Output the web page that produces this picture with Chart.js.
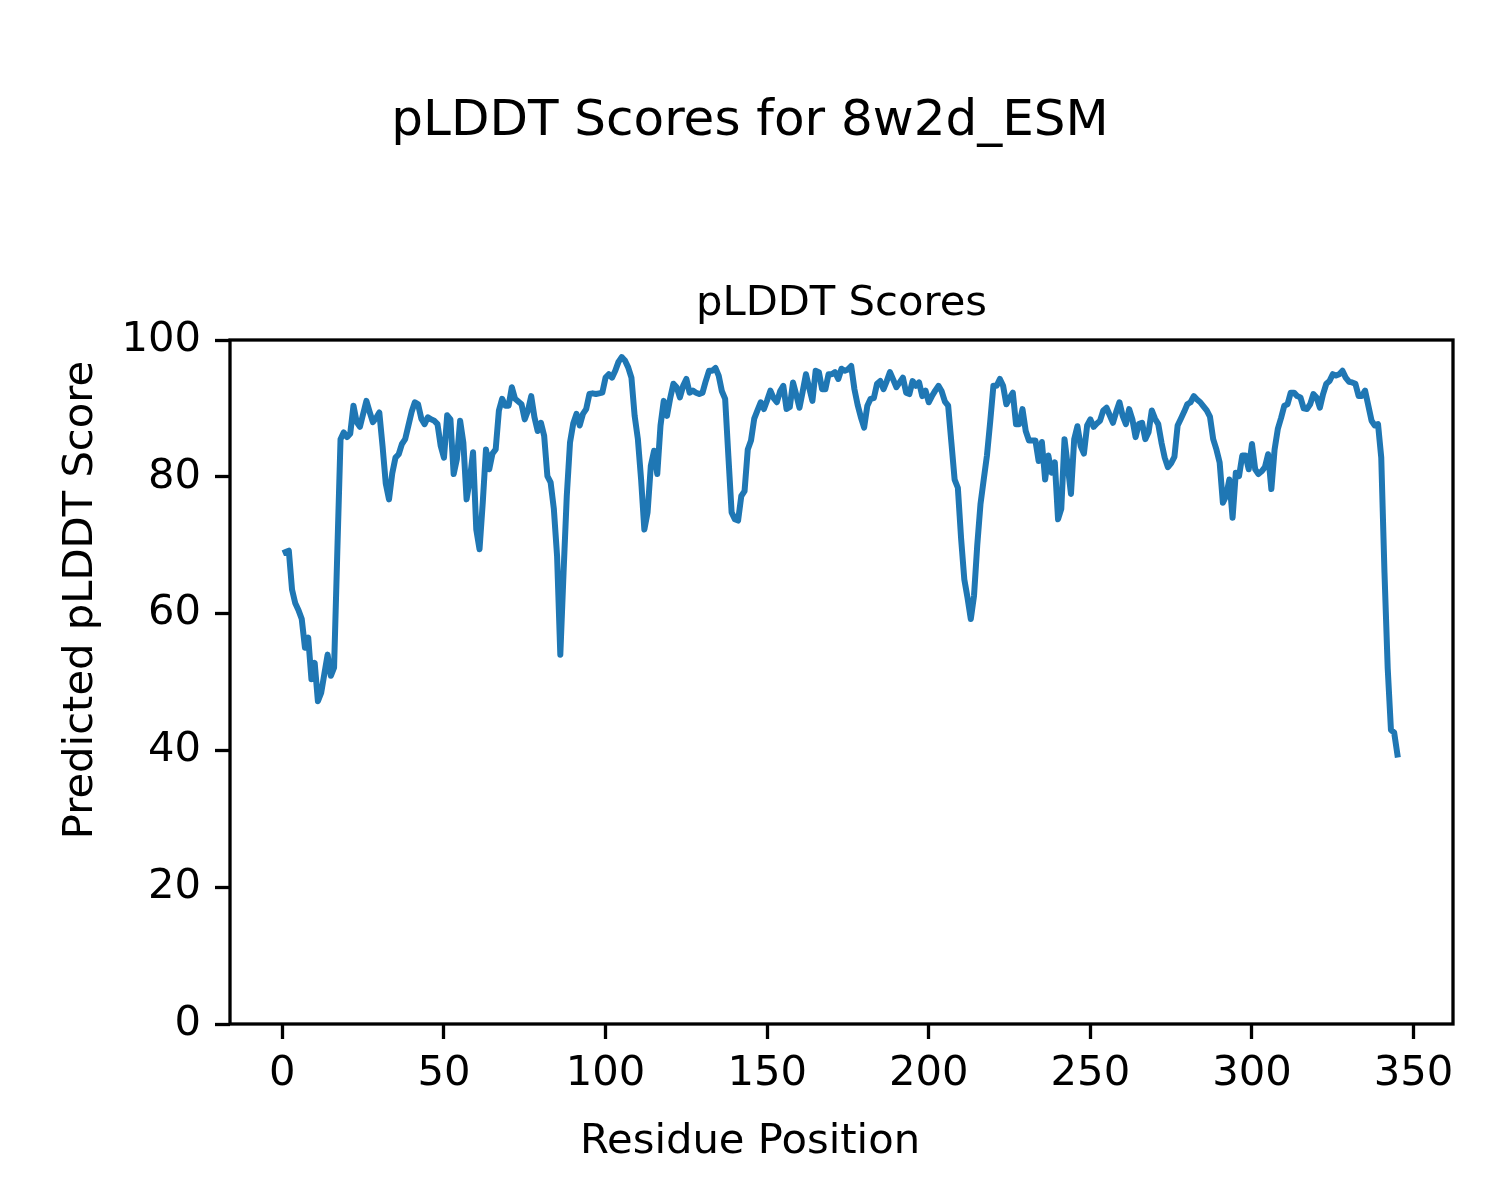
<!DOCTYPE html>
<html>
<head>
<meta charset="utf-8">
<script src="https://cdn.jsdelivr.net/npm/chart.js@4.4.1/dist/chart.umd.min.js"></script>
<style>
    html, body { margin: 0; background: #fff; }
    #wrap { width: 1500px; height: 1200px; }
</style>
</head>
<body>
<div id="wrap"><canvas id="grafico" width="1500" height="1200"></canvas></div>
<script>
// tick labels
var residueTicks = [0, 50, 100, 150, 200, 250, 300, 350];
var scoreTicks = [0, 20, 40, 60, 80, 100];

// pLDDT per residue (1..345)
var plddt = [
    69.0, 69.2, 63.5, 61.5, 60.5, 59.2, 55.0, 56.5, 50.4, 52.8,
    47.2, 48.4, 51.2, 54.0, 50.9, 52.1, 69.0, 85.5, 86.5, 85.8,
    86.3, 90.4, 88.0, 87.3, 89.2, 91.1, 89.5, 88.0, 88.6, 89.4,
    84.5, 79.0, 76.7, 80.5, 82.8, 83.3, 84.8, 85.5, 87.5, 89.5,
    90.9, 90.6, 88.5, 87.7, 88.7, 88.4, 88.2, 87.7, 84.5, 82.8,
    89.0, 88.4, 80.4, 82.6, 88.2, 85.0, 76.7, 79.6, 83.6, 72.3,
    69.4, 76.2, 84.0, 81.1, 83.4, 84.0, 89.7, 91.4, 90.4, 90.4,
    93.1, 91.4, 91.0, 90.6, 88.4, 89.7, 91.8, 88.7, 86.7, 87.9,
    86.0, 80.1, 79.2, 75.3, 68.4, 54.0, 66.0, 77.2, 85.0, 87.8,
    89.2, 87.5, 89.2, 89.9, 92.1, 92.2, 92.1, 92.2, 92.3, 94.5,
    95.0, 94.5, 95.5, 96.8, 97.5, 97.0, 96.0, 94.5, 88.9, 85.5,
    79.6, 72.3, 74.8, 81.6, 83.8, 80.4, 87.5, 91.1, 88.9, 91.5,
    93.6, 93.1, 91.6, 93.3, 94.3, 92.3, 92.6, 92.3, 92.1, 92.3,
    94.0, 95.5, 95.5, 95.9, 94.8, 92.5, 91.4, 83.0, 74.8, 73.8,
    73.6, 77.2, 77.9, 84.0, 85.3, 88.5, 89.7, 90.9, 89.9, 91.2,
    92.6, 91.5, 90.9, 92.5, 93.3, 89.9, 90.2, 93.8, 92.0, 90.1,
    92.5, 95.0, 93.0, 91.1, 95.5, 95.3, 92.8, 92.8, 95.0, 95.0,
    95.3, 94.3, 95.8, 95.5, 95.7, 96.2, 92.8, 90.5, 88.7, 87.2,
    90.4, 91.4, 91.5, 93.6, 94.0, 92.8, 94.0, 95.3, 94.2, 93.1,
    93.8, 94.5, 92.3, 92.1, 94.0, 93.3, 93.8, 91.8, 92.6, 90.9,
    91.8, 92.6, 93.3, 92.5, 91.0, 90.4, 85.0, 79.6, 78.4, 71.0,
    65.0, 62.3, 59.2, 62.6, 70.0, 76.0, 79.6, 83.1, 88.0, 93.3,
    93.3, 94.3, 93.3, 90.6, 91.5, 92.3, 87.7, 87.7, 89.9, 86.7,
    85.3, 85.3, 85.3, 82.3, 85.1, 79.6, 83.1, 80.6, 82.1, 73.8,
    75.3, 85.5, 81.6, 77.5, 85.5, 87.4, 84.5, 83.4, 87.5, 88.4,
    87.3, 87.8, 88.2, 89.7, 90.1, 89.0, 87.9, 89.5, 90.9, 88.9,
    87.7, 89.9, 88.4, 85.8, 87.7, 87.9, 85.5, 86.5, 89.7, 88.5,
    87.7, 85.0, 82.8, 81.4, 82.0, 82.9, 87.5, 88.5, 89.5, 90.6,
    90.9, 91.8, 91.3, 90.9, 90.3, 89.7, 88.8, 85.5, 84.0, 82.1,
    76.2, 77.2, 79.6, 74.0, 80.6, 80.1, 83.1, 83.1, 81.1, 84.8,
    81.1, 80.4, 80.8, 81.4, 83.3, 78.2, 84.0, 87.0, 88.6, 90.4,
    90.6, 92.3, 92.3, 91.8, 91.6, 90.0, 89.9, 90.6, 92.1, 91.6,
    90.1, 92.1, 93.6, 94.0, 95.0, 94.8, 95.0, 95.5, 94.5, 93.9,
    93.8, 93.6, 91.8, 91.8, 92.6, 90.4, 88.2, 87.5, 87.7, 82.8,
    66.0, 52.0, 43.0, 42.6, 39.4
];

var punti = [];
for (var i = 0; i < plddt.length; i++) {
    punti.push({ x: i + 1, y: plddt[i] });
}

var FONT = 'DejaVu Sans';

// frame + titles, drawn like matplotlib
var cornice = {
    id: 'cornice',
    afterDraw: function (chart) {
        var ctx = chart.ctx;
        var a = chart.chartArea;
        ctx.save();
        ctx.strokeStyle = '#000';
        ctx.lineWidth = 3.3;
        ctx.strokeRect(a.left, a.top, a.right - a.left, a.bottom - a.top);

        ctx.fillStyle = '#000';
        ctx.textAlign = 'center';
        ctx.textBaseline = 'alphabetic';
        ctx.font = '50px "' + FONT + '"';
        ctx.fillText('pLDDT Scores for 8w2d_ESM', 750, 135);

        ctx.font = '41.7px "' + FONT + '"';
        ctx.fillText('pLDDT Scores', (a.left + a.right) / 2, 315);
        ctx.fillText('Residue Position', 750, 1153);

        ctx.translate(92, 600);
        ctx.rotate(-Math.PI / 2);
        ctx.fillText('Predicted pLDDT Score', 0, 0);
        ctx.restore();
    }
};

var ctx = document.getElementById('grafico');
var chart = new Chart(ctx, {
    type: 'line',
    data: {
        datasets: [{
            label: 'pLDDT',
            data: punti,
            borderColor: '#1f77b4',
            borderWidth: 6,
            borderJoinStyle: 'round',
            borderCapStyle: 'square',
            pointRadius: 0,
            tension: 0,
            fill: false
        }]
    },
    options: {
        responsive: false,
        animation: false,
        devicePixelRatio: 1,
        layout: { padding: { left: 0, top: 340, right: 47, bottom: 0 } },
        plugins: {
            legend: { display: false },
            tooltip: { enabled: false },
            title: { display: false }
        },
        scales: {
            x: {
                type: 'linear',
                min: -16.2,
                max: 362.2,
                afterBuildTicks: function (s) {
                    s.ticks = residueTicks.map(function (v) { return { value: v }; });
                },
                afterFit: function (s) { s.height = 176; },
                border: { display: false },
                grid: { drawOnChartArea: false, drawTicks: true, tickLength: 15, tickWidth: 3.3, tickColor: '#000' },
                ticks: { font: { family: FONT, size: 41.7 }, color: '#000', padding: 10, maxRotation: 0, autoSkip: false }
            },
            y: {
                min: 0,
                max: 100,
                afterBuildTicks: function (s) {
                    s.ticks = scoreTicks.map(function (v) { return { value: v }; });
                },
                afterFit: function (s) { s.width = 230; },
                border: { display: false },
                grid: { drawOnChartArea: false, drawTicks: true, tickLength: 15, tickWidth: 3.3, tickColor: '#000' },
                ticks: { font: { family: FONT, size: 41.7 }, color: '#000', padding: 14, autoSkip: false }
            }
        }
    },
    plugins: [cornice]
});
</script>
</body>
</html>
